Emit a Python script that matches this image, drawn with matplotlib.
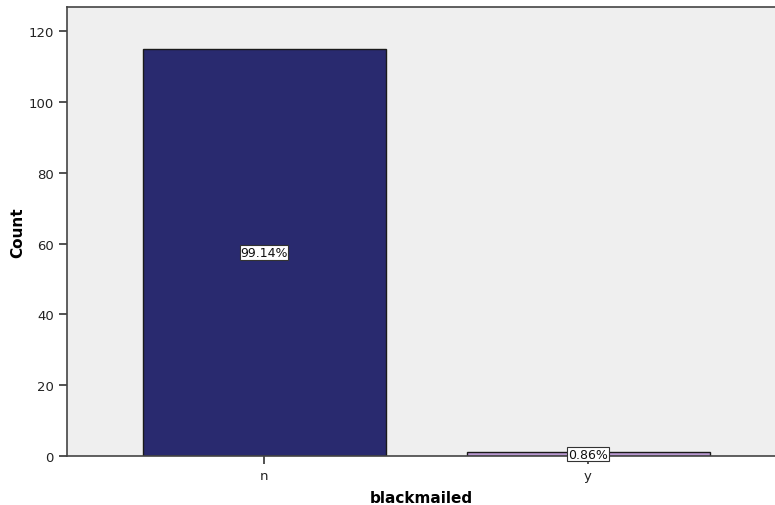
import matplotlib
matplotlib.use("Agg")
import matplotlib.pyplot as plt

categories = ["n", "y"]
counts = [115, 1]
percent_labels = ["99.14%", "0.86%"]
colors = ["#292a6f", "#b898d0"]

fig = plt.figure(figsize=(7.75, 5.06), dpi=100)
ax = fig.add_axes([0.0865, 0.0968, 0.9135, 0.8872])
ax.set_facecolor("#efefef")
x = list(range(len(categories)))
ax.bar(x, counts, width=0.75, color=colors, edgecolor="#1a1a1a", linewidth=1.0, zorder=2)
ax.set_xlim(-0.608, 1.577)
ax.set_ylim(0, 126.8)
ax.set_yticks([0, 20, 40, 60, 80, 100, 120])
ax.set_xticks(x)
ax.set_xticklabels(categories)
ax.spines["right"].set_visible(False)
for s in ["left", "bottom", "top"]:
    ax.spines[s].set_color("#444444")
    ax.spines[s].set_linewidth(1.2)
ax.tick_params(axis="both", labelsize=9.5, color="#333333", length=6, width=1.2, labelcolor="#222222")
ax.tick_params(axis="x", pad=3)
for xi, c, lab in zip(x, counts, percent_labels):
    ax.text(xi, c / 2, lab, ha="center", va="center", fontsize=9, color="#111111",
            bbox=dict(boxstyle="square,pad=0.05", facecolor="white", edgecolor="#333333", linewidth=0.8), zorder=3)
ax.set_ylabel("Count", fontsize=11, fontweight="bold", labelpad=2)
ax.set_xlabel("blackmailed", fontsize=11, fontweight="bold", labelpad=6)
fig.savefig("out.png", dpi=100)
